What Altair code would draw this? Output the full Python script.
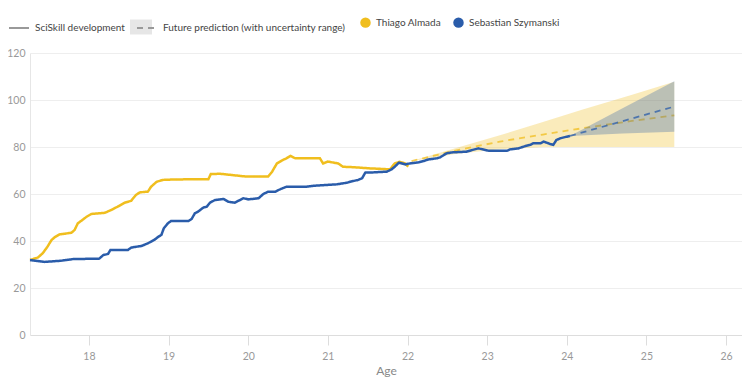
import altair as alt
import pandas as pd

PLAYERS = ["Thiago Almada", "Sebastian Szymanski"]
COLORS = ["#F0BE1E", "#2A5CAA"]
KINDS = ["SciSkill development", "Future prediction (with uncertainty range)"]

almada_age = [17.26, 17.36, 17.42, 17.48, 17.53, 17.57, 17.63, 17.78, 17.82, 17.86, 17.90, 17.97,
              18.03, 18.20, 18.28, 18.36, 18.45, 18.53, 18.59, 18.64, 18.74, 18.78, 18.85, 18.93,
              19.08, 19.50, 19.53, 19.65, 19.98, 20.25, 20.30, 20.36, 20.42, 20.48, 20.53, 20.59,
              20.90, 20.94, 21.00, 21.13, 21.19, 21.32, 21.53, 21.78, 21.84, 21.90, 21.97, 22.01]
almada_val = [31.9, 33.0, 34.8, 37.6, 40.4, 41.6, 42.8, 43.5, 44.7, 47.5, 48.5, 50.3,
              51.5, 52.0, 53.2, 54.6, 56.3, 57.1, 59.6, 60.7, 61.0, 63.1, 65.2, 66.0,
              66.2, 66.3, 68.5, 68.6, 67.4, 67.4, 69.5, 73.0, 74.2, 75.2, 76.2, 75.2,
              75.2, 73.0, 73.8, 73.0, 71.6, 71.4, 70.9, 70.5, 73.0, 73.7, 73.0, 71.6]

szym_age = [17.26, 17.44, 17.65, 17.80, 18.13, 18.18, 18.24, 18.27, 18.49, 18.53, 18.66, 18.74,
            18.83, 18.87, 18.91, 18.94, 18.99, 19.03, 19.25, 19.29, 19.33, 19.37, 19.44, 19.48,
            19.52, 19.58, 19.69, 19.75, 19.83, 19.94, 20.00, 20.13, 20.19, 20.25, 20.34, 20.40,
            20.48, 20.73, 20.82, 21.11, 21.24, 21.28, 21.38, 21.43, 21.47, 21.57, 21.74, 21.80,
            21.84, 21.89, 21.93, 21.97, 22.03, 22.14, 22.20, 22.26, 22.37, 22.41, 22.49, 22.56,
            22.74, 22.81, 22.89, 22.93, 23.02, 23.25, 23.29, 23.39, 23.48, 23.54, 23.58, 23.67,
            23.71, 23.79, 23.83, 23.87, 23.92, 24.00, 24.04]
szym_val = [31.9, 31.1, 31.6, 32.3, 32.5, 34.0, 34.5, 36.2, 36.2, 37.2, 37.9, 39.0,
            40.7, 41.8, 42.6, 45.4, 47.5, 48.5, 48.5, 49.4, 51.8, 52.5, 54.3, 54.6,
            56.3, 57.4, 57.9, 56.7, 56.3, 58.2, 57.7, 58.2, 60.0, 61.0, 61.0, 62.0,
            63.1, 63.1, 63.5, 64.1, 64.8, 65.2, 66.0, 66.7, 69.1, 69.2, 69.5, 70.5,
            71.6, 73.3, 73.0, 72.6, 73.0, 73.5, 74.0, 74.7, 75.2, 75.6, 77.3, 77.7,
            78.0, 78.7, 79.4, 79.1, 78.4, 78.4, 79.0, 79.4, 80.4, 80.9, 81.6, 81.6,
            82.3, 81.3, 80.9, 83.0, 83.7, 84.4, 84.7]

almada_fc_age = [22.05, 22.6, 23.16, 23.7, 24.2, 24.8, 25.35]
almada_fc_mid = [74.0, 78.5, 82.3, 85.3, 88.0, 91.0, 93.5]
almada_fc_hi = [74.0, 79.5, 85.0, 90.6, 96.0, 102.0, 107.8]
almada_fc_lo = [74.0, 77.0, 79.0, 80.0, 80.0, 80.0, 80.0]

szym_fc_age = [24.04, 24.7, 25.35]
szym_fc_mid = [84.7, 91.0, 97.2]
szym_fc_hi = [84.7, 96.5, 108.0]
szym_fc_lo = [84.7, 85.7, 86.5]

X_TICKS = [18, 19, 20, 21, 22, 23, 24, 25, 26]
Y_TICKS = [0, 20, 40, 60, 80, 100, 120]

hist = pd.concat([
    pd.DataFrame({"player": PLAYERS[0], "age": almada_age, "value": almada_val}),
    pd.DataFrame({"player": PLAYERS[1], "age": szym_age, "value": szym_val}),
])
hist["kind"] = KINDS[0]
fc = pd.concat([
    pd.DataFrame({"player": PLAYERS[0], "age": almada_fc_age, "value": almada_fc_mid,
                  "lo": almada_fc_lo, "hi": almada_fc_hi}),
    pd.DataFrame({"player": PLAYERS[1], "age": szym_fc_age, "value": szym_fc_mid,
                  "lo": szym_fc_lo, "hi": szym_fc_hi}),
])
fc["kind"] = KINDS[1]

FONT = "Lato"
LFS = 10

x_enc = alt.X("age:Q", title="Age",
              scale=alt.Scale(domain=[17.26, 26.2], nice=False, zero=False),
              axis=alt.Axis(values=X_TICKS, grid=False, domainColor="#dddddd", tickColor="#dddddd",
                            tickSize=10, labelPadding=6, labelColor="#999999", labelFontSize=10.5,
                            labelFont=FONT, titleFont=FONT, titleColor="#888888", titleFontSize=12,
                            titleFontWeight="normal", titlePadding=4, labelFlush=False))
y_enc = alt.Y("value:Q", title=None,
              scale=alt.Scale(domain=[0, 120], nice=False),
              axis=alt.Axis(values=Y_TICKS, grid=True, gridColor="#eeeeee", domainColor="#e6e6e6",
                            ticks=False, labelPadding=5, labelColor="#999999", labelFontSize=10.5,
                            labelFont=FONT))

color_scale = alt.Scale(domain=PLAYERS, range=COLORS)
dash_scale = alt.Scale(domain=KINDS, range=[[1, 0], [6, 5]])

color_nolegend = alt.Color("player:N", scale=color_scale, legend=None, sort=PLAYERS)

dash_legend = alt.Legend(title=None, orient="none", direction="horizontal",
                         legendX=-22, legendY=-36, symbolType="stroke",
                         symbolStrokeColor="#999999", symbolStrokeWidth=2, symbolOpacity=1,
                         symbolSize=400, labelFont=FONT, labelFontSize=LFS, labelLimit=400,
                         labelColor="#444444", labelOffset=5,
                         columnPadding=8, values=KINDS)

BOX = "M-1.1,-0.75H1.1V0.75H-1.1Z"
box_layer = alt.Chart(fc).mark_point(size=0, filled=True, color="#e6e6e6", opacity=1).encode(
    x=x_enc, y=y_enc,
    shape=alt.Shape("kind:N", scale=alt.Scale(domain=[KINDS[1]], range=[BOX]),
                    legend=alt.Legend(title=None, orient="none", legendX=101, legendY=-36,
                                      symbolType=BOX, symbolFillColor="#e6e6e6",
                                      symbolStrokeWidth=0, symbolOpacity=1, symbolSize=400,
                                      labelExpr="''", labelFontSize=LFS)),
)

legend_pts = alt.Chart(hist).mark_circle(size=0, opacity=1).encode(
    x=x_enc, y=y_enc,
    color=alt.Color("player:N", scale=color_scale, sort=PLAYERS,
                    legend=alt.Legend(title=None, orient="none", direction="horizontal",
                                      legendX=330, legendY=-36, symbolType="circle",
                                      symbolSize=110, symbolOpacity=1, symbolStrokeWidth=0,
                                      labelFont=FONT, labelFontSize=LFS, labelColor="#444444",
                                      labelOffset=5, columnPadding=12)),
)

def band(p):
    return alt.Chart(fc).transform_filter(alt.datum.player == p).mark_area(opacity=0.3).encode(
        x=x_enc, y=alt.Y("lo:Q", scale=alt.Scale(domain=[0, 120], nice=False)), y2="hi:Q",
        color=color_nolegend)

def fc_line(p, legend):
    return alt.Chart(fc).transform_filter(alt.datum.player == p).mark_line(
        strokeWidth=1.8, opacity=0.75).encode(
        x=x_enc, y=y_enc, color=color_nolegend,
        strokeDash=alt.StrokeDash("kind:N", scale=dash_scale, sort=KINDS, legend=legend))

hist_lines = alt.Chart(hist).mark_line(strokeWidth=2.5).encode(
    x=x_enc, y=y_enc, color=color_nolegend, detail="player:N",
    strokeDash=alt.StrokeDash("kind:N", scale=dash_scale, sort=KINDS, legend=None),
)

chart = alt.layer(
    box_layer, legend_pts, band(PLAYERS[0]), fc_line(PLAYERS[0], dash_legend), band(PLAYERS[1]),
    fc_line(PLAYERS[1], None), hist_lines
).resolve_scale(color="shared", strokeDash="shared").properties(
    width=712, height=282,
    autosize=alt.AutoSizeParams(type="none"),
    padding={"left": 22, "top": 45, "right": 0, "bottom": 44},
).configure_view(stroke=None)

chart.save("out.html", embed_options={"renderer": "svg", "actions": False})
